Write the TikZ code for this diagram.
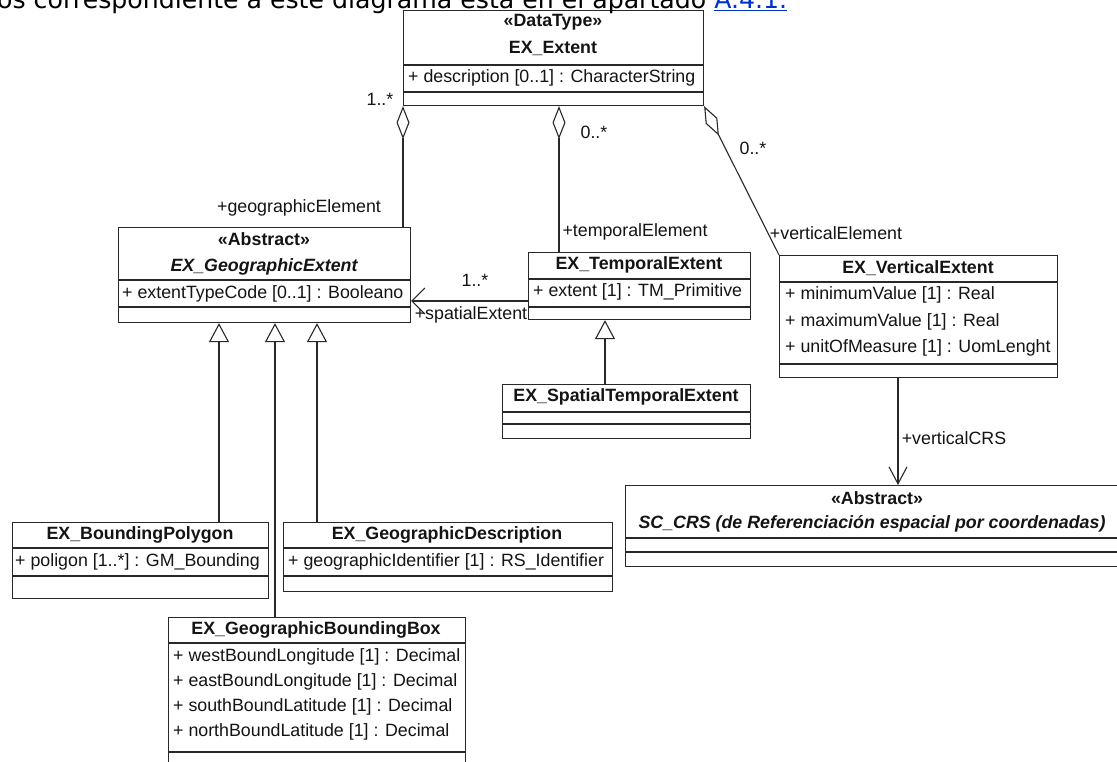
\documentclass[tikz,border=0pt]{standalone}
\usepackage{fontspec}
\usetikzlibrary{arrows.meta,calc}
\newfontfamily\umlfont{Liberation Sans}
\newfontfamily\capfont{DejaVu Sans}
\newcommand\umlsize{\fontsize{17.8}{21}\selectfont}
\definecolor{lc}{RGB}{40,40,40}
\definecolor{tc}{RGB}{20,20,20}
\definecolor{linkblue}{RGB}{0,51,204}
\tikzset{
  cls/.style={draw=lc, line width=1.1pt, fill=white, inner sep=0pt, anchor=north west},
  lbl/.style={inner sep=0pt, font=\umlfont\umlsize, text=tc},
  ttl/.style={lbl, font=\umlfont\umlsize\bfseries},
  ttli/.style={lbl, font=\umlfont\umlsize\bfseries\itshape},
  att/.style={lbl, anchor=west},
  sep/.style={draw=lc, line width=1.1pt},
  conn/.style={draw=lc, line width=1.1pt},
  aggr/.style={conn, {Diamond[fill=white, length=33pt, width=13pt]}-},
  gen/.style={conn, -{Triangle[fill=white, length=19pt, width=20pt]}},
  nav/.style={conn, -{Straight Barb[length=13pt, width=26pt]}},
  navb/.style={conn, -{Straight Barb[length=17pt, width=18pt]}},
}
\begin{document}
\begin{tikzpicture}[x=1pt, y=-1pt]
\useasboundingbox (0,0) rectangle (1117,762);
\fill[white] (0,0) rectangle (1117,762);
\clip (0,0) rectangle (1117,762);

% ---- classes ----
\node[cls, minimum width=300pt, minimum height=95pt] (ext) at (403,10) {};
\draw[sep] (ext.west |- 0,65) -- (ext.east |- 0,65);
\draw[sep] (ext.west |- 0,92) -- (ext.east |- 0,92);
\node[ttl] at (553,22) {«DataType»};
\node[ttl] at (553,48) {EX\_Extent};
\node[att] at (408,78) {+ description [0..1] : CharacterString};

\node[cls, minimum width=292pt, minimum height=95pt] (geo) at (118,227) {};
\draw[sep] (geo.west |- 0,280) -- (geo.east |- 0,280);
\draw[sep] (geo.west |- 0,307) -- (geo.east |- 0,307);
\node[ttl] at (264,239) {«Abstract»};
\node[ttli] at (264,267) {EX\_GeographicExtent};
\node[att] at (122,294) {+ extentTypeCode [0..1] : Booleano};

\node[cls, minimum width=222pt, minimum height=67pt] (tmp) at (528,252) {};
\draw[sep] (tmp.west |- 0,279) -- (tmp.east |- 0,279);
\draw[sep] (tmp.west |- 0,307) -- (tmp.east |- 0,307);
\node[ttl] at (639,265) {EX\_TemporalExtent};
\node[att] at (533,292) {+ extent [1] : TM\_Primitive};

\node[cls, minimum width=248pt, minimum height=54pt] (spt) at (502,384) {};
\draw[sep] (spt.west |- 0,412) -- (spt.east |- 0,412);
\draw[sep] (spt.west |- 0,424) -- (spt.east |- 0,424);
\node[ttl] at (626,397) {EX\_SpatialTemporalExtent};

\node[cls, minimum width=278pt, minimum height=122pt] (vrt) at (779,255) {};
\draw[sep] (vrt.west |- 0,282) -- (vrt.east |- 0,282);
\draw[sep] (vrt.west |- 0,364) -- (vrt.east |- 0,364);
\node[ttl] at (918,268) {EX\_VerticalExtent};
\node[att] at (785,295) {+ minimumValue [1] : Real};
\node[att] at (785,322) {+ maximumValue [1] : Real};
\node[att] at (785,348) {+ unitOfMeasure [1] : UomLenght};

\node[cls, minimum width=510pt, minimum height=81pt] (crs) at (625,485) {};
\draw[sep] (crs.west |- 0,538) -- (crs.east |- 0,538);
\draw[sep] (crs.west |- 0,552) -- (crs.east |- 0,552);
\node[ttl] at (877,498) {«Abstract»};
\node[ttli] at (872,524) {SC\_CRS (de Referenciación espacial por coordenadas)};

\node[cls, minimum width=256pt, minimum height=76pt] (bp) at (12,522) {};
\draw[sep] (bp.west |- 0,548) -- (bp.east |- 0,548);
\draw[sep] (bp.west |- 0,576) -- (bp.east |- 0,576);
\node[ttl] at (140,535) {EX\_BoundingPolygon};
\node[att] at (15,562) {+ poligon [1..*] : GM\_Bounding};

\node[cls, minimum width=329pt, minimum height=69pt] (gd) at (283,522) {};
\draw[sep] (gd.west |- 0,548) -- (gd.east |- 0,548);
\draw[sep] (gd.west |- 0,576) -- (gd.east |- 0,576);
\node[ttl] at (447,535) {EX\_GeographicDescription};
\node[att] at (288,562) {+ geographicIdentifier [1] : RS\_Identifier};

\node[cls, minimum width=297pt, minimum height=150pt] (gbb) at (168,617) {};
\draw[sep] (gbb.west |- 0,643) -- (gbb.east |- 0,643);
\draw[sep] (gbb.west |- 0,752) -- (gbb.east |- 0,752);
\node[ttl] at (316,630) {EX\_GeographicBoundingBox};
\node[att] at (173,657) {+ westBoundLongitude [1] : Decimal};
\node[att] at (173,682) {+ eastBoundLongitude [1] : Decimal};
\node[att] at (173,707) {+ southBoundLatitude [1] : Decimal};
\node[att] at (173,732) {+ northBoundLatitude [1] : Decimal};

% ---- connector columns ----
\coordinate (xm) at (559,0);
\coordinate (xs) at (605,0);
\coordinate (xv) at (898,0);
\coordinate (g1) at (219,0);
\coordinate (g2) at (275,0);
\coordinate (g3) at (317,0);

% aggregations from EX_Extent
\draw[aggr] (ext.south west) -- (ext.south west |- geo.north);
\draw[aggr] (ext.south -| xm) -- (tmp.north -| xm);
\draw[aggr] (ext.south east) -- (vrt.north west);

% navigable associations
\draw[nav] (tmp.west |- 0,301) -- (geo.east |- 0,301);
\draw[navb] (vrt.south -| xv) -- (crs.north -| xv);

% generalizations
\draw[gen] (spt.north -| xs) -- (tmp.south -| xs);
\draw[gen] (bp.north -| g1) -- (geo.south -| g1);
\draw[gen] (gbb.north -| g2) -- (geo.south -| g2);
\draw[gen] (gd.north -| g3) -- (geo.south -| g3);

% role names and multiplicities
\node[lbl] at (380,99) {1..*};
\node[lbl] at (594,132) {0..*};
\node[lbl] at (753,148) {0..*};
\node[lbl] at (299,208) {+geographicElement};
\node[lbl] at (635,232) {+temporalElement};
\node[lbl] at (836,233) {+verticalElement};
\node[lbl] at (475,280) {1..*};
\node[lbl] at (471,315) {+spatialExtent};
\node[lbl] at (954,438) {+verticalCRS};

% running text line above the figure, cut by the top edge
\node[anchor=base west, inner sep=0pt, font=\capfont\fontsize{25.2}{29}\selectfont, text=black] (cap) at (-3,9)
  {os correspondiente a este diagrama está en el apartado \textcolor{linkblue}{\underline{A.4.1.}}};
\end{tikzpicture}
\end{document}
